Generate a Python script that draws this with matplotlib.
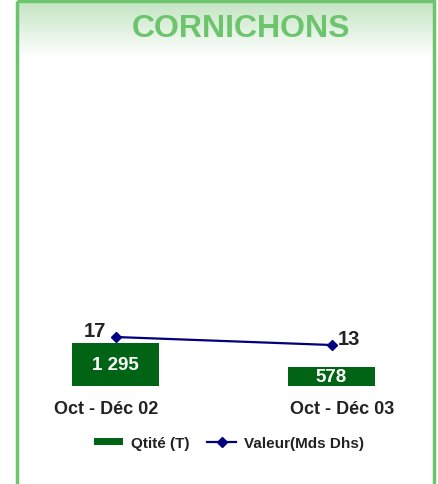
import matplotlib.pyplot as plt
import numpy as np
from matplotlib.patches import Rectangle
from matplotlib.transforms import ScaledTranslation

plt.rcParams['font.family'] = ['Liberation Sans', 'DejaVu Sans']
plt.rcParams['font.weight'] = 'bold'

# données
categories = ['Oct - Déc 02', 'Oct - Déc 03']
qtite = [1295, 578]
valeur = [17, 13]
qtite_labels = ['1 295', '578']
titre = 'CORNICHONS'

W, H = 438, 485
fig = plt.figure(figsize=(W / 100, H / 100), dpi=100)

# fond dégradé + cadre
bg = fig.add_axes([0, 0, 1, 1], zorder=-10)
bg.set_xlim(0, W)
bg.set_ylim(H, 0)
bg.axis('off')
g = np.linspace(0, 1, 120)[:, None, None]
top = np.array([194, 228, 194]) / 255
img = top[None, None, :] * (1 - g) + g
img = np.repeat(img, 2, axis=1)
bg.imshow(img, extent=(17, 434, 58, 2), aspect='auto', interpolation='nearest')
bg.add_patch(Rectangle((17, 2), 417, 500, fill=False, edgecolor='#6cc46c', lw=2.5))
bg.text(241, 29, titre, color='#6cc46c', fontsize=23, fontweight='bold',
        ha='center', va='center')

# graphique
ax = fig.add_axes([20 / W, (H - 387) / H, 408 / W, 317 / H])
x = np.arange(len(categories))
bars = ax.bar(x, qtite, width=0.403, color='#006414', label='Qtité (T)')
ax.set_xlim((20 - 115.5) / 216, (428 - 115.5) / 216)
ax.set_ylim(0, 317 / 0.0332)
for b, lab in zip(bars, qtite_labels):
    ax.text(b.get_x() + b.get_width() / 2, b.get_height() / 2, lab,
            color='white', fontsize=13.5, fontweight='bold', ha='center', va='center')
ax.set_xticks(x)
ax.set_xticklabels(categories, fontsize=13, fontweight='bold', color='#222222')
ax.tick_params(axis='x', length=0, pad=10)
for t, dx in zip(ax.get_xticklabels(), [-9.5, 10.5]):
    t.set_transform(t.get_transform() + ScaledTranslation(dx / 100, 0, fig.dpi_scale_trans))
ax.set_yticks([])
for s in ax.spines.values():
    s.set_visible(False)
ax.patch.set_alpha(0)

ax2 = ax.twinx()
line, = ax2.plot(x, valeur, color='#000080', lw=1.6, marker='D', markersize=5.5,
                 label='Valeur(Mds Dhs)')
ax2.set_ylim(-7.5, 151)
ax2.set_yticks([])
for s in ax2.spines.values():
    s.set_visible(False)
ax2.annotate(str(valeur[0]), (x[0], valeur[0]), xytext=(-6.5, 5), textcoords='offset points',
             ha='right', va='center', fontsize=14.5, fontweight='bold', color='#222222')
ax2.annotate(str(valeur[1]), (x[1], valeur[1]), xytext=(4.5, 4.5), textcoords='offset points',
             ha='left', va='center', fontsize=14.5, fontweight='bold', color='#222222')

fig.legend(handles=[bars, line], loc='center', bbox_to_anchor=(229 / W, 1 - 444 / H),
           ncol=2, frameon=False, prop={'size': 11, 'weight': 'bold'},
           handlelength=1.9, handleheight=0.4, handletextpad=0.5, columnspacing=1.2,
           labelcolor='#222222')

plt.savefig('out.png', dpi=100)
plt.close()
